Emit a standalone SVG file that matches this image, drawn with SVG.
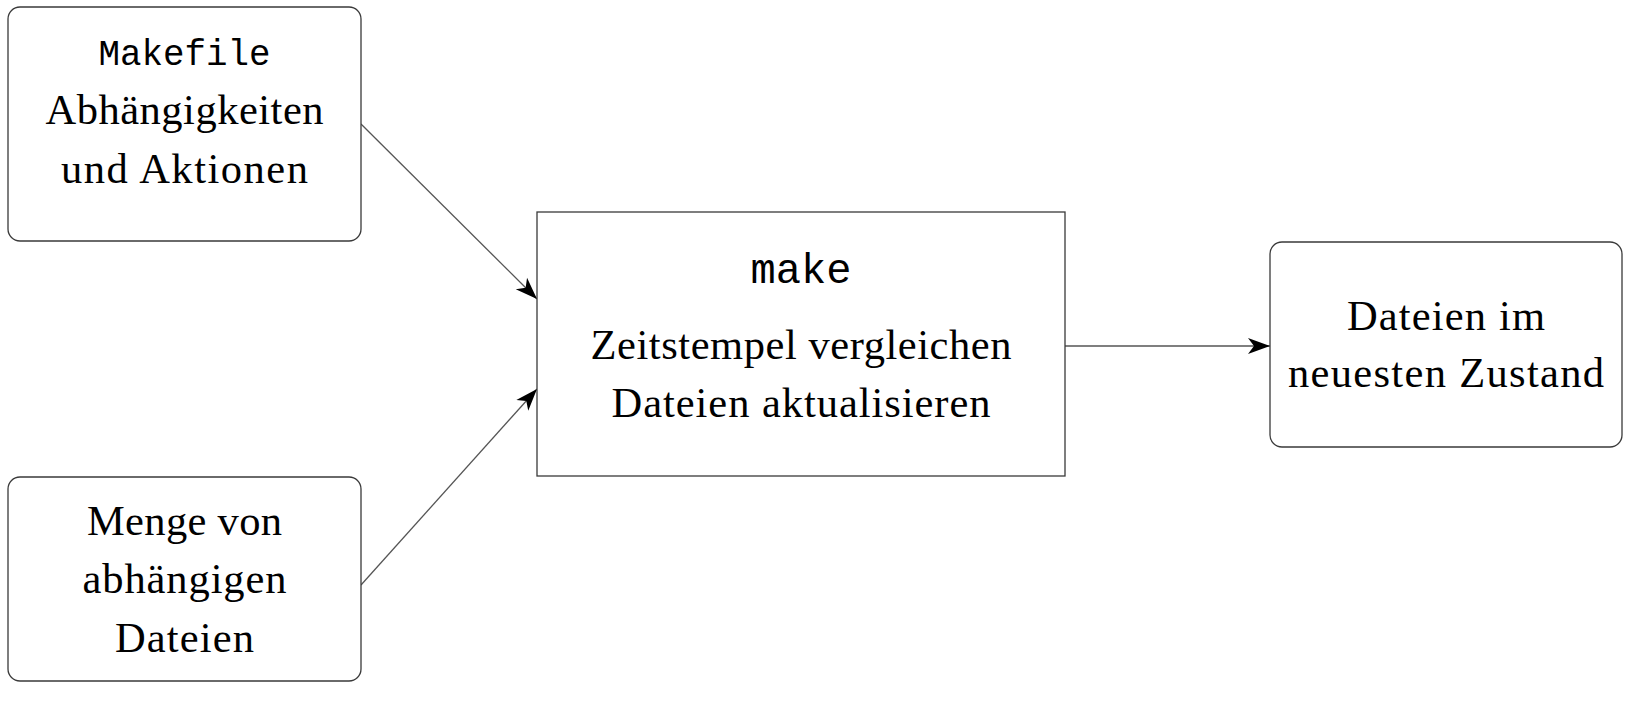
<svg xmlns="http://www.w3.org/2000/svg" width="1636" height="707" viewBox="0 0 1636 707">
<style>
.box{fill:#fff;stroke:#3a3a3a;stroke-width:1.3}
.t{font-family:"Liberation Serif","Times New Roman",serif;font-size:42.5px;fill:#000;text-anchor:middle}
.m{font-family:"Liberation Mono","Courier New",monospace;fill:#000;text-anchor:middle}
.c{stroke:#555;stroke-width:1.3;fill:none}
</style>
<defs>
<marker id="ah" markerUnits="userSpaceOnUse" viewBox="0 -9 22 18" refX="22" refY="0" markerWidth="22" markerHeight="18" orient="auto">
<path d="M0,-8 L22,0 L0,8 L6,0 Z" fill="#000"/>
</marker>
</defs>
<rect width="1636" height="707" fill="#fff"/>
<g id="connectors">
<line class="c" x1="361" y1="124" x2="537" y2="299" marker-end="url(#ah)"/>
<line class="c" x1="361" y1="585" x2="537" y2="389" marker-end="url(#ah)"/>
<line class="c" x1="1065" y1="346" x2="1270" y2="346" marker-end="url(#ah)"/>
</g>
<g id="makefile">
<rect class="box" x="8" y="7" width="353" height="234" rx="12"/>
<text class="m" x="184.5" y="65" font-size="36" textLength="172" lengthAdjust="spacingAndGlyphs">Makefile</text>
<text class="t" x="184.5" y="124" textLength="278" lengthAdjust="spacing">Abhängigkeiten</text>
<text class="t" x="184.5" y="183" textLength="247" lengthAdjust="spacing">und Aktionen</text>
</g>
<g id="dateien">
<rect class="box" x="8" y="477" width="353" height="204" rx="12"/>
<text class="t" x="184.5" y="535" textLength="195" lengthAdjust="spacing">Menge von</text>
<text class="t" x="184.5" y="593" textLength="204" lengthAdjust="spacing">abhängigen</text>
<text class="t" x="184.5" y="652" textLength="139" lengthAdjust="spacing">Dateien</text>
</g>
<g id="make">
<rect class="box" x="537" y="212" width="528" height="264"/>
<text class="m" x="801" y="283" font-size="42" textLength="101" lengthAdjust="spacingAndGlyphs">make</text>
<text class="t" x="801" y="359" textLength="421" lengthAdjust="spacing">Zeitstempel vergleichen</text>
<text class="t" x="801" y="417" textLength="379" lengthAdjust="spacing">Dateien aktualisieren</text>
</g>
<g id="ergebnis">
<rect class="box" x="1270" y="242" width="352" height="205" rx="12"/>
<text class="t" x="1446" y="330" textLength="198" lengthAdjust="spacing">Dateien im</text>
<text class="t" x="1446" y="387" textLength="316" lengthAdjust="spacing">neuesten Zustand</text>
</g>
</svg>
